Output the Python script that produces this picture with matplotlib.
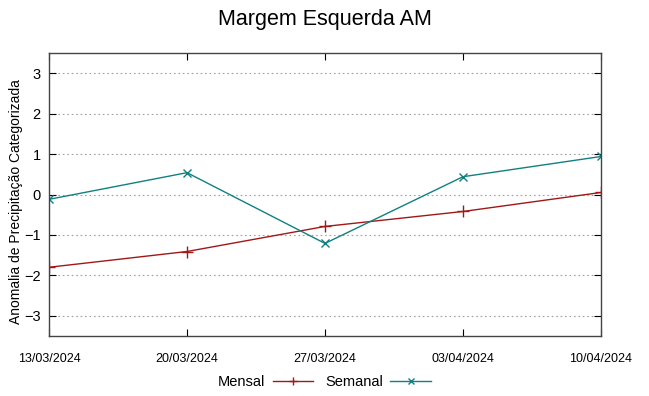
import matplotlib
matplotlib.use("Agg")
import matplotlib.pyplot as plt

plt.rcParams['font.family'] = ['Liberation Sans', 'DejaVu Sans']

# dates on the x axis
datas = ["13/03/2024", "20/03/2024", "27/03/2024", "03/04/2024", "10/04/2024"]
mensal = [-1.80, -1.41, -0.79, -0.42, 0.05]
semanal = [-0.12, 0.54, -1.21, 0.44, 0.94]

fig = plt.figure(figsize=(6.49, 3.96), dpi=100)
ax = fig.add_axes([49 / 649, 60 / 396, 552 / 649, 283 / 396])

x = list(range(len(datas)))
ax.plot(x, mensal, color='#a01818', lw=1.0, marker='+', ms=8, mew=1.0, label='Mensal')
ax.plot(x, semanal, color='#118080', lw=1.0, marker='x', ms=6, mew=1.0, label='Semanal')

ax.set_xlim(0, len(datas) - 1)
ax.set_ylim(-3.5, 3.5)
ax.set_yticks([-3, -2, -1, 0, 1, 2, 3])
ax.set_xticks(x)
ax.set_xticklabels(datas, fontsize=9)
ax.tick_params(axis='y', labelsize=10.5, direction='in', length=5, right=True, pad=6)
ax.tick_params(axis='x', direction='in', length=5, top=True, pad=12)
ax.yaxis.grid(True, linestyle=(0, (1.5, 2.5)), color='#a0a0a0', lw=0.8)
for s in ax.spines.values():
    s.set_color('#444444')
    s.set_linewidth(1.0)

fig.text(16 / 649, 0.49, 'Anomalia de Precipitação Categorizada', fontsize=10,
         rotation=90, ha='center', va='center')
fig.text(0.5, 1 - 20 / 396, 'Margem Esquerda AM', fontsize=15.5, ha='center', va='center')

fig.legend(loc='center', bbox_to_anchor=(0.5, 0.035), ncol=2, frameon=False,
           markerfirst=False, fontsize=10.5, handlelength=2.8, columnspacing=0.8,
           handletextpad=0.5, markerscale=0.8)

fig.savefig('out.png', dpi=100)
